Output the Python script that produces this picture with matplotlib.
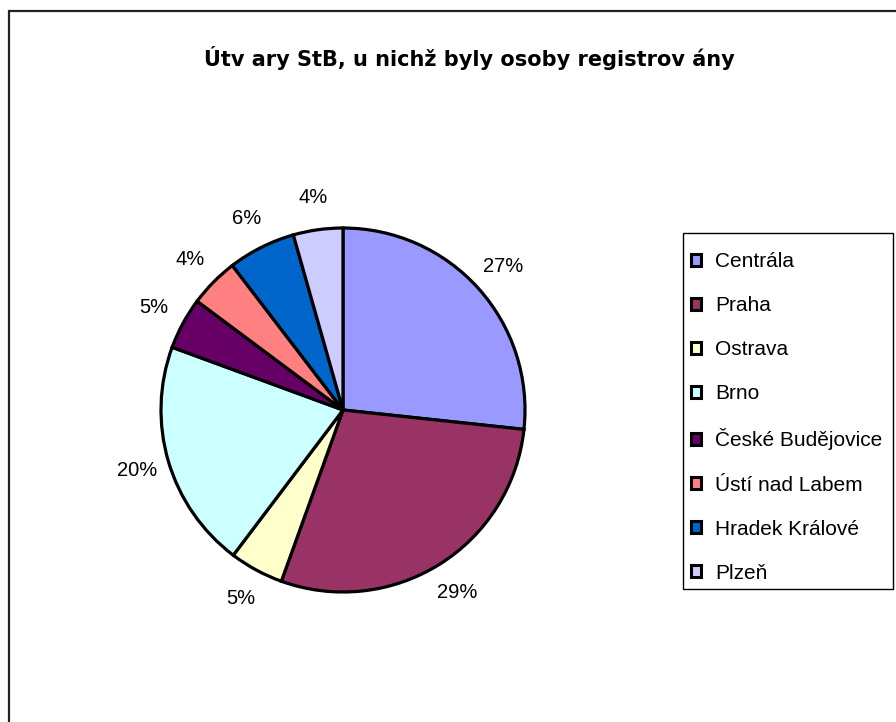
import matplotlib.pyplot as plt
from matplotlib.patches import Patch, Rectangle

plt.rcParams['font.family'] = ['Liberation Sans', 'DejaVu Sans']

utvary = ["Centrála", "Praha", "Ostrava", "Brno", "České Budějovice",
          "Ústí nad Labem", "Hradek Králové", "Plzeň"]
podil = [26.7, 28.8, 4.8, 20.3, 4.6, 4.4, 6.0, 4.4]
barvy = ["#9999FF", "#993366", "#FFFFCC", "#CCFFFF", "#660066",
         "#FF8080", "#0066CC", "#CCCCFF"]

W, H = 896, 722
fig = plt.figure(figsize=(W / 100, H / 100), dpi=100)

# ram grafu (pravy a dolni okraj je mimo obrazek)
fig.patches.append(Rectangle((9 / W, -0.2), 1.5, 1 - 11 / H + 0.2,
                             transform=fig.transFigure, fill=False,
                             edgecolor="#222222", linewidth=1.6))

# osa pro kolac: stred (343, 410), polomer 182 px
r = 182
lim = 1.25
size = 2 * lim * r
ax = fig.add_axes([(343 - size / 2) / W, (H - 410 - size / 2) / H,
                   size / W, size / H])
wedges, texty, pct = ax.pie(podil, colors=barvy, startangle=90,
                            counterclock=False, autopct="%1.0f%%",
                            pctdistance=1.18,
                            wedgeprops=dict(edgecolor="black", linewidth=2.3),
                            textprops=dict(fontsize=14.5, color="black"))
ax.set_xlim(-lim, lim)
ax.set_ylim(-lim, lim)
ax.set_aspect("equal")
ax.axis("off")

fig.text(469 / W, 1 - 58 / H, "Útv ary StB, u nichž byly osoby registrov ány",
         ha="center", va="center", fontsize=15, fontweight="bold",
         family="DejaVu Sans")

# ramecek legendy
fig.patches.append(Rectangle((683 / W, 1 - 589 / H), 210 / W, 356 / H,
                             transform=fig.transFigure, fill=False,
                             edgecolor="black", linewidth=1.0))

handles = [Patch(facecolor=c, edgecolor="black", linewidth=2.2) for c in barvy]
leg = fig.legend(handles, utvary, loc="upper left",
                 bbox_to_anchor=(691 / W, 1 - 252 / H),
                 fontsize=15, frameon=False,
                 handlelength=0.5, handleheight=0.5, handletextpad=0.65,
                 labelspacing=1.205, borderpad=0, borderaxespad=0)

plt.savefig("out.png", dpi=100)
